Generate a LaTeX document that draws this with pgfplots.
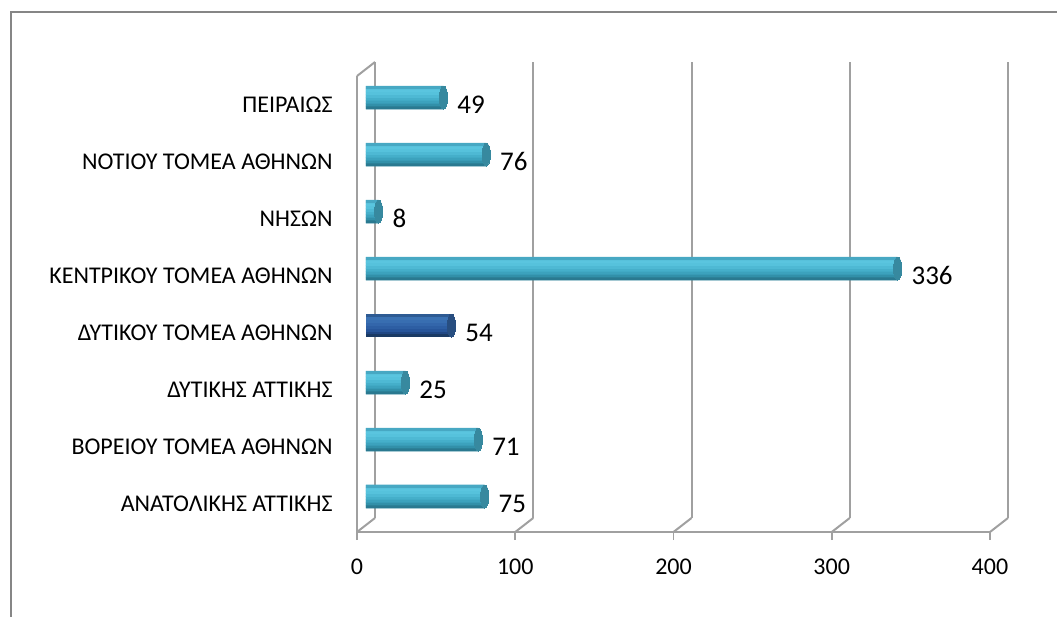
\documentclass[border=0pt]{standalone}
\usepackage{fontspec}
\setmainfont{Carlito}
\usepackage{pgfplots}
\usepackage{pgfplotstable}
\pgfplotsset{compat=1.18}

\definecolor{gridgray}{HTML}{A0A0A0}
\definecolor{framegray}{HTML}{868686}
\definecolor{capLight}{HTML}{37899F}
\definecolor{capDark}{HTML}{284E80}
% cylinder bands, bottom to top
\definecolor{lbase}{HTML}{4AB0CB}
\definecolor{lA}{HTML}{2A7990}
\definecolor{lB}{HTML}{3290A9}
\definecolor{lC}{HTML}{3CA2BD}
\definecolor{lD}{HTML}{45AFCA}
\definecolor{lE}{HTML}{4EB9D4}
\definecolor{lF}{HTML}{56C2DC}
\definecolor{lG}{HTML}{5AC5DF}
\definecolor{lH}{HTML}{47A8C3}
\definecolor{dbase}{HTML}{2F5F9C}
\definecolor{dA}{HTML}{1A3A64}
\definecolor{dB}{HTML}{204784}
\definecolor{dC}{HTML}{27559A}
\definecolor{dD}{HTML}{2D5EA3}
\definecolor{dE}{HTML}{3366AB}
\definecolor{dF}{HTML}{386EB1}
\definecolor{dG}{HTML}{3B72B3}
\definecolor{dH}{HTML}{2E5B93}

% value, category index (0 = bottom)
\pgfplotstableread{
v y
75 0
71 1
25 2
336 4
8 5
76 6
49 7
}\lightdata
\pgfplotstableread{
v y
54 3
}\darkdata

\pgfplotsset{
  band/.style 2 args={xbar, bar width=1.7pt, bar shift=#1, draw=none, fill=#2,
      xshift=4.5pt, yshift=3.5pt, forget plot},
  base/.style={xbar, bar width=11.5pt, bar shift=0pt, draw=none, fill=#1,
      xshift=4.5pt, yshift=3.5pt, forget plot,
      point meta=x, nodes near coords,
      nodes near coords style={font=\fontsize{13.5}{15}\selectfont, anchor=west,
          inner sep=0pt, xshift=6.75pt, yshift=-3.5pt, text=black}},
  cap/.style={only marks, mark=*, mark size=5.75pt, forget plot,
      mark options={xscale=0.36, fill=#1, draw=#1, line width=0pt},
      xshift=4.5pt, yshift=3.5pt},
}

\begin{document}
\begin{tikzpicture}
% page: 1057 x 617 px, 1px = 0.5pt, origin top left
\path[use as bounding box] (0,0) rectangle (528.5pt,-308.5pt);
\draw[framegray, line width=1pt] (5.5pt,-308.5pt) -- (5.5pt,-6pt) -- (528.5pt,-6pt);

% back wall
\begin{axis}[
    at={(187.5pt,-259pt)}, anchor=south west,
    scale only axis, width=316.5pt, height=228pt,
    xmin=0, xmax=400, ymin=-0.5, ymax=7.5,
    xtick={0,100,200,300,400}, ytick=\empty,
    xticklabels={}, tick style={draw=none},
    axis line style={draw=none},
    xmajorgrids, major grid style={gridgray, line width=1pt},
]
\addplot[draw=none] coordinates {(0,0)};
\end{axis}

% front axis with bars
\begin{axis}[
    at={(178.5pt,-266pt)}, anchor=south west,
    scale only axis, width=316.5pt, height=228pt,
    xmin=0, xmax=400, ymin=-0.5, ymax=7.5,
    clip=false,
    axis x line*=bottom, axis y line*=left,
    axis line style={gridgray, line width=1pt, -},
    xtick={0,100,200,300,400},
    xtick align=outside, major tick length=4pt,
    x tick style={gridgray, line width=0.8pt},
    /pgf/number format/assume math mode=true,
    xticklabel style={font=\fontsize{12}{14}\selectfont, anchor=north, inner sep=0pt, yshift=-9.5pt},
    ytick={0,...,7},
    y tick style={draw=none},
    minor ytick={-0.5,0.5,...,7.5},
    minor tick length=4pt,
    minor y tick style={gridgray, line width=0.8pt},
    ytick align=outside,
    yticklabels={ΑΝΑΤΟΛΙΚΗΣ ΑΤΤΙΚΗΣ, ΒΟΡΕΙΟΥ ΤΟΜΕΑ ΑΘΗΝΩΝ, ΔΥΤΙΚΗΣ ΑΤΤΙΚΗΣ,
        ΔΥΤΙΚΟΥ ΤΟΜΕΑ ΑΘΗΝΩΝ, ΚΕΝΤΡΙΚΟΥ ΤΟΜΕΑ ΑΘΗΝΩΝ, ΝΗΣΩΝ,
        ΝΟΤΙΟΥ ΤΟΜΕΑ ΑΘΗΝΩΝ, ΠΕΙΡΑΙΩΣ},
    yticklabel style={font=\fontsize{12}{14}\selectfont, anchor=east, inner sep=0pt, xshift=-8pt},
]
% floor and side wall edges
\draw[gridgray, line width=1pt] (axis cs:0,-0.5) -- ++(9pt,7pt);
\draw[gridgray, line width=1pt] (axis cs:100,-0.5) -- ++(9pt,7pt);
\draw[gridgray, line width=1pt] (axis cs:200,-0.5) -- ++(9pt,7pt);
\draw[gridgray, line width=1pt] (axis cs:300,-0.5) -- ++(9pt,7pt);
\draw[gridgray, line width=1pt] (axis cs:400,-0.5) -- ++(9pt,7pt);
\draw[gridgray, line width=1pt] (axis cs:0,7.5) -- ++(9pt,7pt);

% light cylinders: base, bands from bottom to top, end cap
\addplot[base=lbase] table[x=v, y=y] {\lightdata};
\addplot[band={-5.03pt}{lA}] table[x=v, y=y] {\lightdata};
\addplot[band={-3.59pt}{lB}] table[x=v, y=y] {\lightdata};
\addplot[band={-2.16pt}{lC}] table[x=v, y=y] {\lightdata};
\addplot[band={-0.72pt}{lD}] table[x=v, y=y] {\lightdata};
\addplot[band={0.72pt}{lE}] table[x=v, y=y] {\lightdata};
\addplot[band={2.16pt}{lF}] table[x=v, y=y] {\lightdata};
\addplot[band={3.59pt}{lG}] table[x=v, y=y] {\lightdata};
\addplot[band={5.03pt}{lH}] table[x=v, y=y] {\lightdata};
\addplot[cap=capLight] table[x=v, y=y] {\lightdata};

% highlighted cylinder
\addplot[base=dbase] table[x=v, y=y] {\darkdata};
\addplot[band={-5.03pt}{dA}] table[x=v, y=y] {\darkdata};
\addplot[band={-3.59pt}{dB}] table[x=v, y=y] {\darkdata};
\addplot[band={-2.16pt}{dC}] table[x=v, y=y] {\darkdata};
\addplot[band={-0.72pt}{dD}] table[x=v, y=y] {\darkdata};
\addplot[band={0.72pt}{dE}] table[x=v, y=y] {\darkdata};
\addplot[band={2.16pt}{dF}] table[x=v, y=y] {\darkdata};
\addplot[band={3.59pt}{dG}] table[x=v, y=y] {\darkdata};
\addplot[band={5.03pt}{dH}] table[x=v, y=y] {\darkdata};
\addplot[cap=capDark] table[x=v, y=y] {\darkdata};
\end{axis}
\end{tikzpicture}
\end{document}
